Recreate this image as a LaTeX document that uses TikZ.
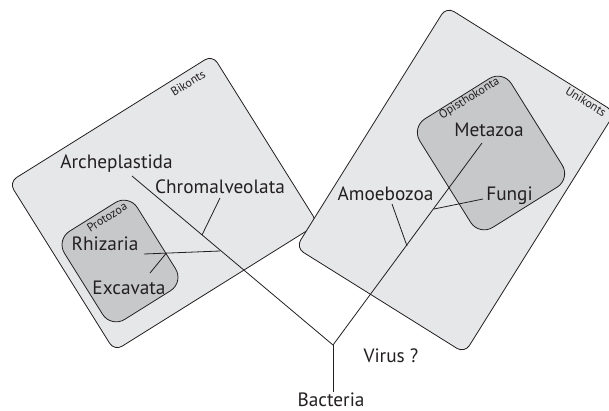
\documentclass[tikz,border=0pt]{standalone}
\usepackage{fontspec}
\setmainfont{PT Sans}
\definecolor{outerfill}{RGB}{230,231,232}
\definecolor{innerfill}{RGB}{199,200,202}
\definecolor{edge}{RGB}{35,31,32}
\begin{document}
\begin{tikzpicture}[x=1pt,y=-1pt,
  outerbox/.style={draw=edge,line width=0.8pt,fill=outerfill,rounded corners=9pt,inner sep=0pt},
  innerbox/.style={draw=edge,line width=0.8pt,fill=innerfill,rounded corners=16pt,inner sep=0pt},
  taxon/.style={font=\fontsize{19.3}{22}\selectfont,text=edge,inner sep=0pt,anchor=base},
  grp/.style={font=\fontsize{12}{14}\selectfont,text=edge,inner sep=0pt},
  branch/.style={draw=edge,line width=0.8pt}]
\useasboundingbox (0,0) rectangle (609,410);
% group boxes
\node[outerbox,minimum width=240pt,minimum height=199pt,rotate=32] (bik) at (163.5,203) {};
\node[outerbox,minimum width=199pt,minimum height=284pt,rotate=-32] (uni) at (455.5,180) {};
\node[innerbox,minimum width=86pt,minimum height=104pt,rotate=32] (pro) at (120,261) {};
\node[innerbox,minimum width=108pt,minimum height=128pt,rotate=32] (opi) at (491,153) {};
% group labels
\node[grp,rotate=32] (bikl) at (188,83) {Bikonts};
\node[grp,rotate=-32] (unil) at (586,101.5) {Unikonts};
\node[grp,rotate=32] (opil) at (469.5,98.5) {Opisthokonta};
\node[grp,rotate=32] (prol) at (107,217) {Protozoa};
% taxa
\node[taxon] (arch) at (116.5,168.3) {Archeplastida};
\node[taxon] (chrom) at (220,193.3) {Chromalveolata};
\node[taxon] (rhiz) at (105,250) {Rhizaria};
\node[taxon] (exc) at (129,294) {Excavata};
\node[taxon] (amoe) at (385.5,200) {Amoebozoa};
\node[taxon] (meta) at (489,136) {Metazoa};
\node[taxon] (fung) at (509.5,200.7) {Fungi};
\node[taxon] (vir) at (391,362) {Virus ?};
\node[taxon] (bact) at (331,406) {Bacteria};
% tree coordinates
\coordinate (root) at (333,345);
\coordinate (bactend) at (333,392);
\coordinate (archend) at (132,176);
\coordinate (metaend) at (482,143);
\coordinate (chromend) at (220,198);
\coordinate (chromj) at (202,235);
\coordinate (rhizend) at (144,254);
\coordinate (rhizj) at (220,251);
\coordinate (excend) at (150,273);
\coordinate (excj) at (166,253.5);
\coordinate (amoeend) at (392,204);
\coordinate (amoej) at (407,246);
\coordinate (fungend) at (483,199);
\coordinate (fungj) at (434,209);
% branches
\draw[branch] (bactend) -- (root);
\draw[branch] (root) -- (archend);
\draw[branch] (root) -- (metaend);
\draw[branch] (chromend) -- (chromj);
\draw[branch] (rhizend) -- (rhizj);
\draw[branch] (excend) -- (excj);
\draw[branch] (amoeend) -- (amoej);
\draw[branch] (fungend) -- (fungj);
\end{tikzpicture}
\end{document}
